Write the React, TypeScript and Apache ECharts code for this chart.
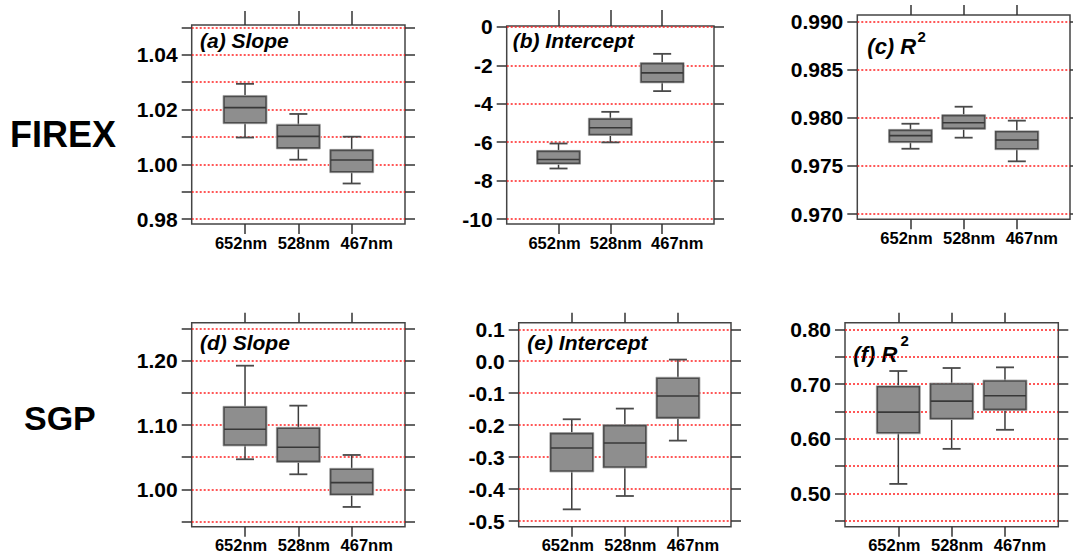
import React, { useEffect, useRef } from "react";
import * as echarts from "echarts";

// ---- data ----
const categories = [" ", "652nm", "528nm", "467nm", "  "];

// [low whisker, Q1, median, Q3, high whisker] for 652nm, 528nm, 467nm
const slopeFirex = [
  [1.0098, 1.0152, 1.0207, 1.0248, 1.0294],
  [1.0017, 1.006, 1.0102, 1.0143, 1.0184],
  [0.993, 0.9973, 1.0016, 1.0051, 1.0101],
];
const interceptFirex = [
  [-7.37, -7.1, -6.9, -6.48, -6.07],
  [-6.01, -5.6, -5.25, -4.8, -4.42],
  [-3.34, -2.86, -2.39, -1.91, -1.4],
];
const r2Firex = [
  [0.97679, 0.97752, 0.97815, 0.9787, 0.97939],
  [0.97794, 0.97891, 0.9795, 0.98023, 0.98116],
  [0.97548, 0.97679, 0.9777, 0.97856, 0.97971],
];
const slopeSgp = [
  [1.0468, 1.0691, 1.0935, 1.1278, 1.1927],
  [1.0234, 1.0436, 1.0655, 1.0951, 1.1304],
  [0.9725, 0.9922, 1.0104, 1.0312, 1.0535],
];
const interceptSgp = [
  [-0.4635, -0.3434, -0.2714, -0.2265, -0.1816],
  [-0.4217, -0.3309, -0.2557, -0.2015, -0.1482],
  [-0.2484, -0.1764, -0.1086, -0.0532, 0.0052],
];
const r2Sgp = [
  [0.5177, 0.611, 0.6488, 0.6951, 0.7238],
  [0.5817, 0.6372, 0.6689, 0.7, 0.7293],
  [0.6165, 0.6537, 0.6787, 0.7055, 0.7305],
];

// tick / gridline values and labelled values
const slopeFirexTicks = [0.98, 0.99, 1.0, 1.01, 1.02, 1.03, 1.04, 1.05];
const slopeFirexLabels = [0.98, 1.0, 1.02, 1.04];
const interceptFirexTicks = [-10, -8, -6, -4, -2, 0];
const r2FirexTicks = [0.97, 0.975, 0.98, 0.985, 0.99];
const slopeSgpTicks = [0.95, 1.0, 1.05, 1.1, 1.15, 1.2, 1.25];
const slopeSgpLabels = [1.0, 1.1, 1.2];
const interceptSgpTicks = [-0.5, -0.4, -0.3, -0.2, -0.1, 0.0, 0.1];
const r2SgpTicks = [0.45, 0.5, 0.55, 0.6, 0.65, 0.7, 0.75, 0.8];
const r2SgpLabels = [0.5, 0.6, 0.7, 0.8];

const panels = [
  { data: slopeFirex, ticks: slopeFirexTicks, labels: slopeFirexLabels, min: 0.9782, max: 1.0509, dec: 2,
    grid: { left: 191.7, top: 25, width: 213.3, height: 199 }, topTick: 14 },
  { data: interceptFirex, ticks: interceptFirexTicks, labels: interceptFirexTicks, min: -10.26, max: 0.05, dec: 0,
    grid: { left: 506.7, top: 26, width: 207.3, height: 198 }, topTick: 16 },
  { data: r2Firex, ticks: r2FirexTicks, labels: r2FirexTicks, min: 0.96945, max: 0.9907, dec: 3,
    grid: { left: 857.3, top: 15, width: 214.5, height: 204.3 }, topTick: 10 },
  { data: slopeSgp, ticks: slopeSgpTicks, labels: slopeSgpLabels, min: 0.9417, max: 1.2597, dec: 2,
    grid: { left: 191.7, top: 322.7, width: 213.3, height: 204 }, topTick: 10 },
  { data: interceptSgp, ticks: interceptSgpTicks, labels: interceptSgpTicks, min: -0.5178, max: 0.1206, dec: 1,
    grid: { left: 518.7, top: 322.7, width: 212.3, height: 204 }, topTick: 10 },
  { data: r2Sgp, ticks: r2SgpTicks, labels: r2SgpLabels, min: 0.4396, max: 0.812, dec: 2,
    grid: { left: 845, top: 322.7, width: 213.3, height: 204 }, topTick: 10 },
];

const FONT = "'Liberation Sans', Arial, Helvetica, sans-serif";
const TICK = "#333";

function renderBox(params: any, api: any) {
  const xv = api.value(0);
  const p = (v: number) => api.coord([xv, v]);
  const x = p(api.value(3))[0];
  const yLow = p(api.value(1))[1];
  const yQ1 = p(api.value(2))[1];
  const yMed = p(api.value(3))[1];
  const yQ3 = p(api.value(4))[1];
  const yHigh = p(api.value(5))[1];
  const hw = 21;
  const cw = 9;
  const w = () => ({ stroke: "#3c3c3c", lineWidth: 1.5 });
  const cap = () => ({ stroke: "#4a4a4a", lineWidth: 1.8 });
  return {
    type: "group",
    children: [
      { type: "line", shape: { x1: x, y1: yHigh, x2: x, y2: yQ3 }, style: w() },
      { type: "line", shape: { x1: x, y1: yQ1, x2: x, y2: yLow }, style: w() },
      { type: "line", shape: { x1: x - cw, y1: yHigh, x2: x + cw, y2: yHigh }, style: cap() },
      { type: "line", shape: { x1: x - cw, y1: yLow, x2: x + cw, y2: yLow }, style: cap() },
      {
        type: "rect",
        shape: { x: x - hw - 1, y: yQ3 - 1, width: 2 * hw + 2, height: yQ1 - yQ3 + 2 },
        style: { fill: "none", stroke: "#b4b4b4", lineWidth: 1 },
      },
      {
        type: "rect",
        shape: { x: x - hw, y: yQ3, width: 2 * hw, height: yQ1 - yQ3 },
        style: { fill: "#8e8e8e", stroke: "#4c4c4c", lineWidth: 1.6 },
      },
      { type: "line", shape: { x1: x - hw, y1: yMed, x2: x + hw, y2: yMed }, style: { stroke: "#383838", lineWidth: 1.6 } },
    ],
  };
}

// label shifts relative to tick (reference labels are spread wider than the ticks)
const labelRich = {
  l1: { padding: [0, 8, 0, 0], fontSize: 16.5, fontWeight: "bold", color: "#000", fontFamily: FONT },
  l2: { padding: [0, 0, 0, 11], fontSize: 16.5, fontWeight: "bold", color: "#000", fontFamily: FONT },
  l3: { padding: [0, 0, 0, 30], fontSize: 16.5, fontWeight: "bold", color: "#000", fontFamily: FONT },
};

function buildOption() {
  const grid: any[] = [];
  const xAxis: any[] = [];
  const yAxis: any[] = [];
  const series: any[] = [];
  panels.forEach((pn, i) => {
    grid.push({
      ...pn.grid,
      show: true,
      borderColor: "#444",
      borderWidth: 1.5,
      backgroundColor: "transparent",
      containLabel: false,
    });
    const tickInterval = (_idx: number, val: string) => val.trim() !== "";
    xAxis.push({
      type: "category",
      gridIndex: i,
      position: "bottom",
      data: categories,
      boundaryGap: false,
      axisLine: { show: false, onZero: false },
      axisTick: { show: true, inside: false, length: 10, interval: tickInterval, lineStyle: { color: TICK, width: 1.5 } },
      axisLabel: {
        show: true,
        interval: 0,
        margin: 10,
        fontSize: 16.5,
        fontWeight: "bold",
        color: "#000",
        fontFamily: FONT,
        formatter: (v: string, idx: number) => (v.trim() === "" ? "" : `{l${idx}|${v}}`),
        rich: labelRich,
      },
      splitLine: { show: false },
    });
    xAxis.push({
      type: "category",
      gridIndex: i,
      position: "top",
      data: categories,
      boundaryGap: false,
      axisLine: { show: false, onZero: false },
      axisTick: { show: true, inside: false, length: pn.topTick, interval: tickInterval, lineStyle: { color: TICK, width: 1.5 } },
      axisLabel: { show: false },
      splitLine: { show: false },
    });
    yAxis.push({
      type: "value",
      gridIndex: i,
      position: "left",
      min: pn.min,
      max: pn.max,
      axisLine: { show: false, onZero: false },
      axisTick: { show: true, inside: false, length: 10, customValues: pn.ticks, lineStyle: { color: TICK, width: 1.5 } },
      axisLabel: {
        show: true,
        margin: 14,
        customValues: pn.labels,
        fontSize: 21,
        fontWeight: "bold",
        color: "#000",
        fontFamily: FONT,
        formatter: (v: number) => v.toFixed(pn.dec),
      },
      splitLine: { show: true, lineStyle: { color: "#ff2020", width: 1.5, type: [2, 2] } },
    });
    yAxis.push({
      type: "value",
      gridIndex: i,
      position: "right",
      min: pn.min,
      max: pn.max,
      axisLine: { show: false, onZero: false },
      axisTick: { show: true, inside: false, length: 10, customValues: pn.ticks, lineStyle: { color: TICK, width: 1.5 } },
      axisLabel: { show: false },
      splitLine: { show: false },
    });
    series.push({
      type: "custom",
      xAxisIndex: i * 2,
      yAxisIndex: i * 2,
      renderItem: renderBox,
      encode: { x: 0, y: [1, 2, 3, 4, 5] },
      data: pn.data.map((d, k) => [k + 1, ...d]),
      z: 5,
    });
  });

  const titleStyle = { fontSize: 21, fontWeight: "bold", fontStyle: "italic", fill: "#000", fontFamily: FONT };
  const r2Style = { ...titleStyle, fontSize: 22 };
  const supStyle = { fontSize: 15, fontWeight: "bold", fill: "#000", fontFamily: FONT };
  const graphic: any[] = [
    { type: "text", left: 10, top: 116, style: { text: "FIREX", fontSize: 36, fontWeight: "bold", fill: "#000", fontFamily: FONT } },
    { type: "text", left: 24, top: 401, style: { text: "SGP", fontSize: 34, fontWeight: "bold", fill: "#000", fontFamily: FONT } },
    { type: "text", x: 200, y: 40, style: { ...titleStyle, text: "(a) Slope", verticalAlign: "middle" } },
    { type: "text", x: 512.7, y: 40, style: { ...titleStyle, text: "(b) Intercept", verticalAlign: "middle" } },
    { type: "text", x: 867.3, y: 46, style: { ...r2Style, text: "(c) R", verticalAlign: "middle" } },
    { type: "text", x: 917.5, y: 36, style: { ...supStyle, text: "2", verticalAlign: "middle" } },
    { type: "text", x: 200, y: 342, style: { ...titleStyle, text: "(d) Slope", verticalAlign: "middle" } },
    { type: "text", x: 527.3, y: 342, style: { ...titleStyle, text: "(e) Intercept", verticalAlign: "middle" } },
    { type: "text", x: 853.3, y: 354, style: { ...r2Style, text: "(f) R", verticalAlign: "middle" } },
    { type: "text", x: 900.5, y: 340, style: { ...supStyle, text: "2", verticalAlign: "middle" } },
  ];

  return {
    animation: false,
    backgroundColor: "#fff",
    grid,
    xAxis,
    yAxis,
    series,
    graphic,
  };
}

export default function App() {
  const ref = useRef<HTMLDivElement | null>(null);
  useEffect(() => {
    if (!ref.current) return;
    const chart = echarts.init(ref.current, undefined, { renderer: "svg" });
    chart.setOption(buildOption() as any);
    return () => chart.dispose();
  }, []);
  return (
    <div
      ref={ref}
      style={{ position: "absolute", left: 0, top: 0, width: 1073, height: 556 }}
    />
  );
}
